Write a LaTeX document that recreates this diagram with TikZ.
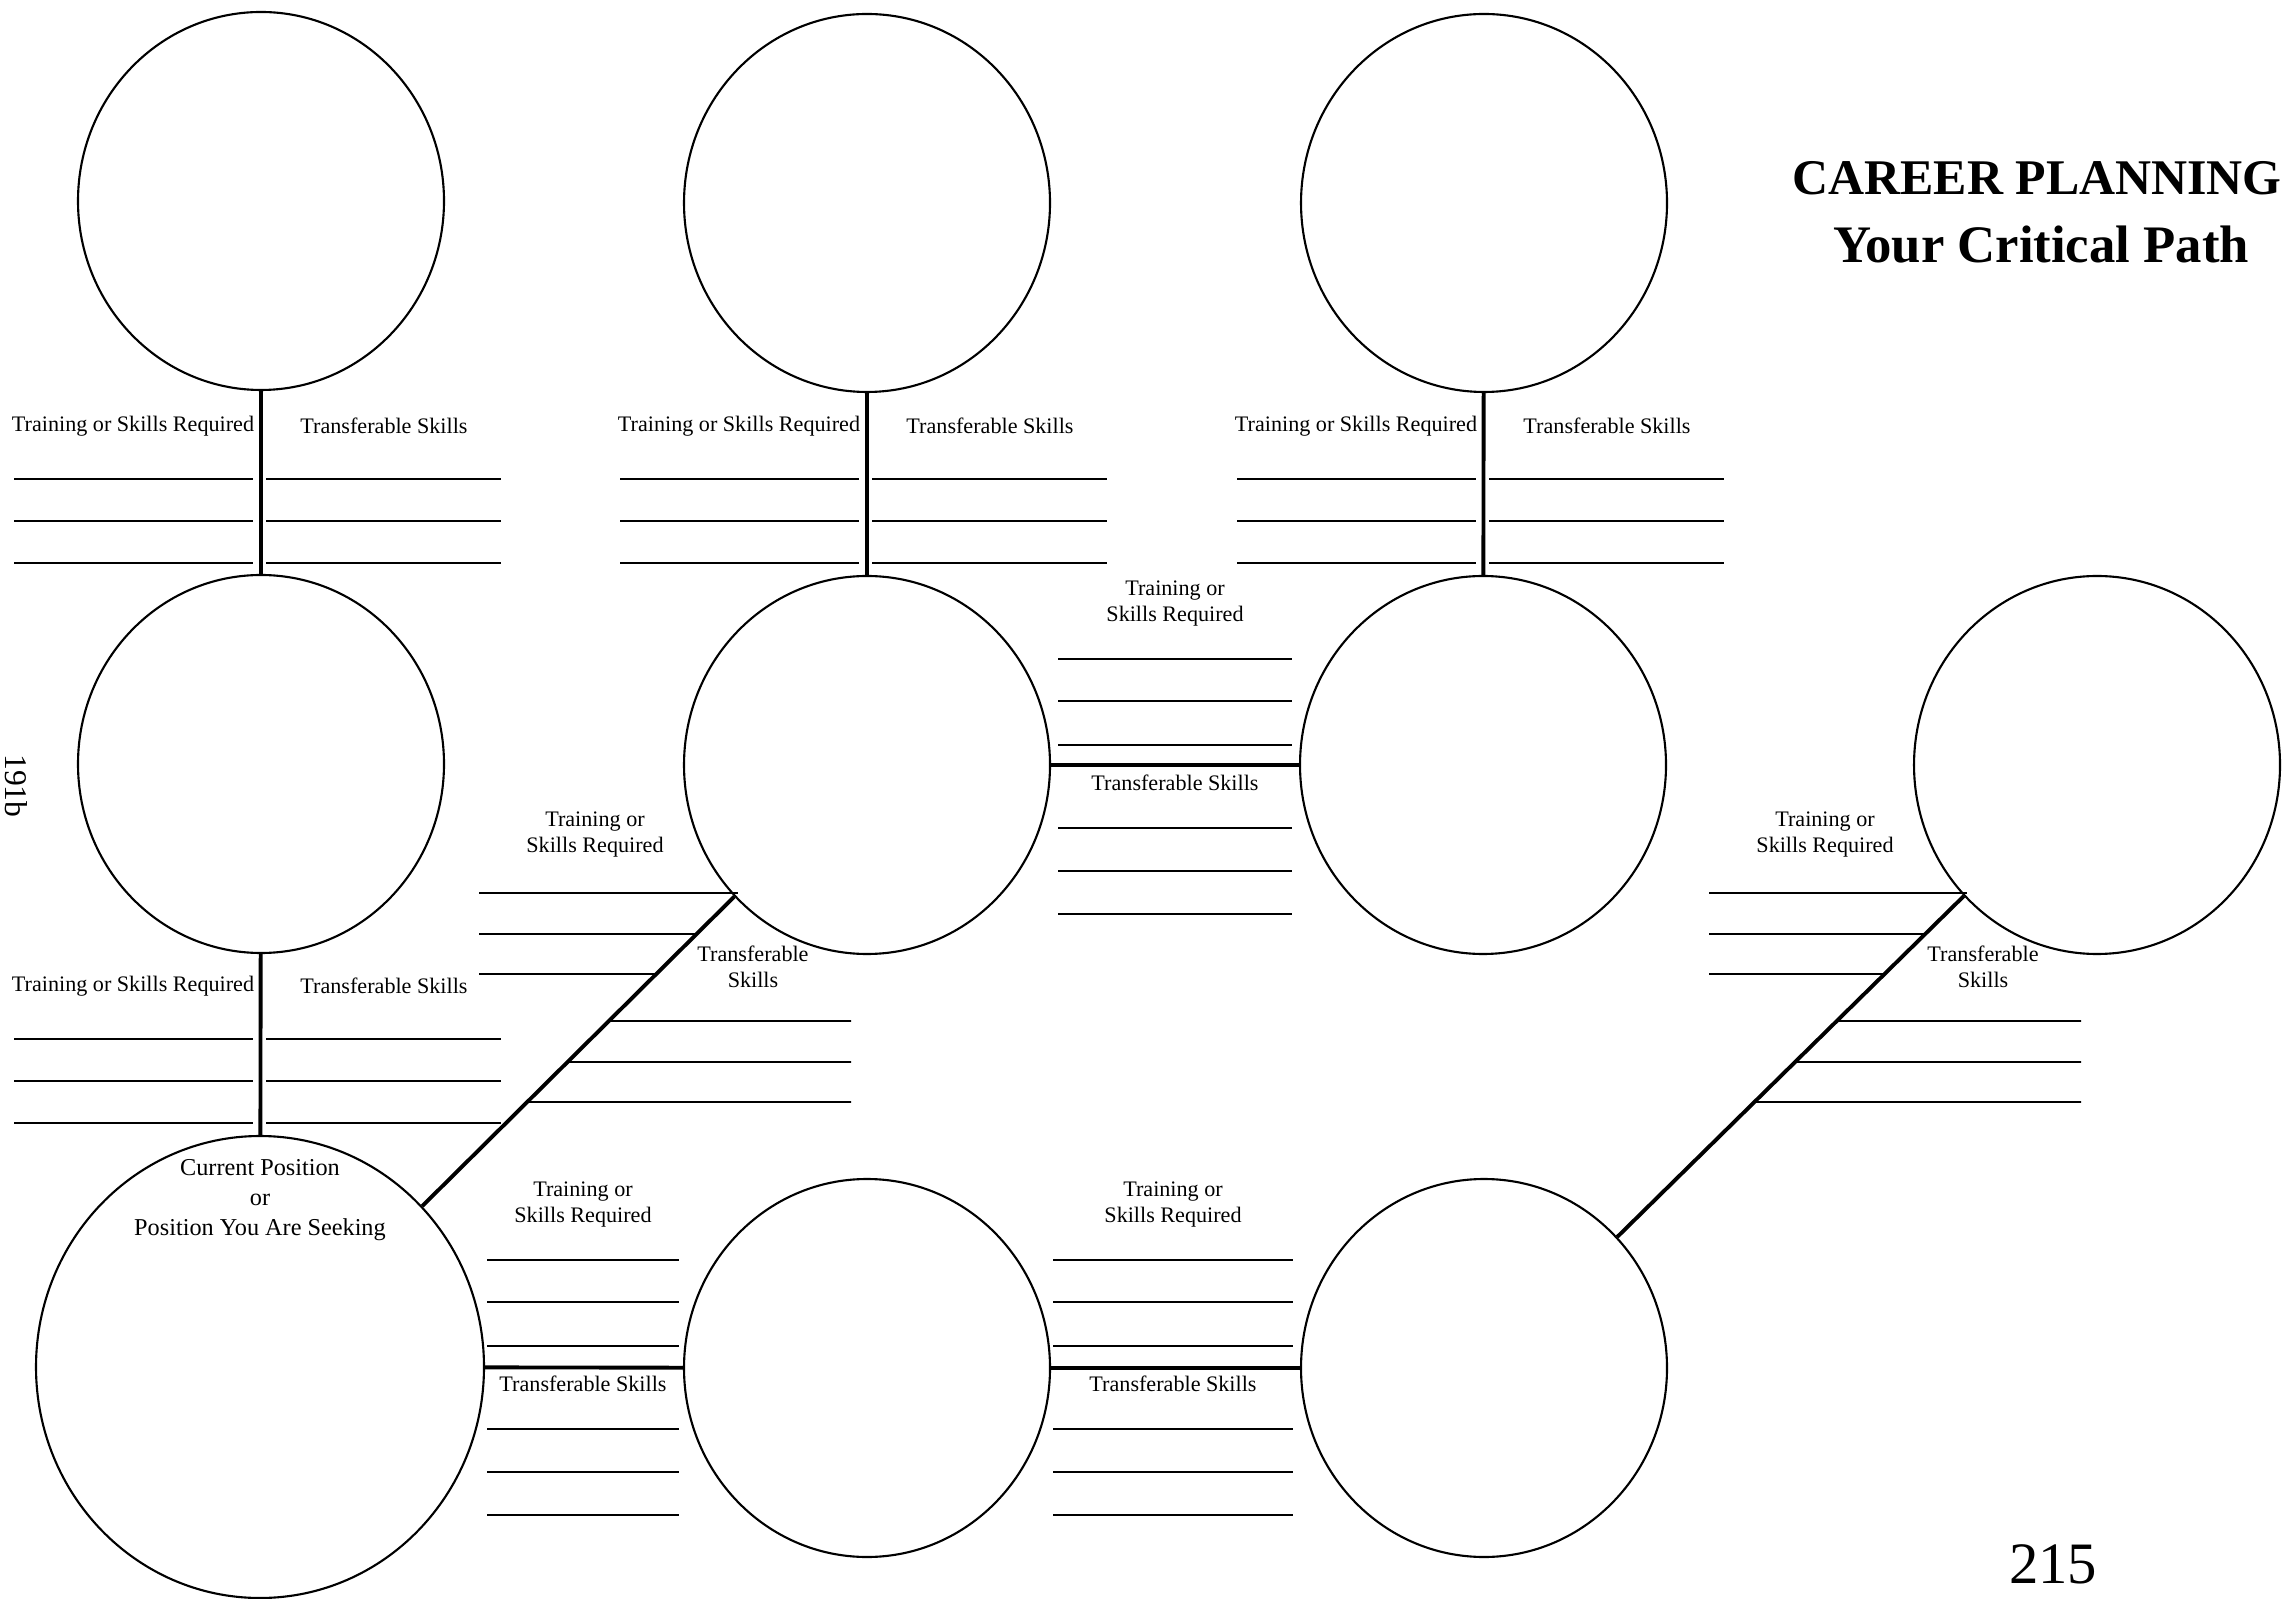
\documentclass[tikz,border=0pt]{standalone}
\usepackage{fontspec}
\setmainfont{Liberation Serif}
\usepackage{tikz}
\usetikzlibrary{shapes.geometric,positioning}
\tikzset{job/.style={draw, ellipse, line width=0.6pt, inner sep=0pt,
           minimum width=36.6mm, minimum height=37.8mm},
         bigjob/.style={minimum width=44.8mm, minimum height=46.2mm},
         pathlink/.style={line width=1.1pt},
         writeline/.style={line width=0.45pt},
         hint/.style={font=\fontsize{6.3}{7.4}\selectfont, align=center,
           inner sep=0pt},
         heading/.style={font=\fontsize{14.2}{17}\selectfont\bfseries,
           anchor=base, inner sep=0pt}}

\begin{document}
\begin{tikzpicture}[x=0.1mm,y=-0.1mm]
  \useasboundingbox (0,0) rectangle (2288,1599);
  % the positions
  \node[job] (c1) at (261,201) {};
  \node[job] (c2) at (867,203) {};
  \node[job] (c3) at (1484,203) {};
  \node[job] (c4) at (261,764) {};
  \node[job] (c5) at (867,765) {};
  \node[job] (c6) at (1483,765) {};
  \node[job] (c7) at (2097,765) {};
  \node[job,bigjob] (c8) at (260,1367) {};
  \node[job] (c9) at (867,1368) {};
  \node[job] (c10) at (1484,1368) {};
  \node[font=\fontsize{6.9}{8.5}\selectfont, align=center, inner sep=0pt,
        below=2.4mm of c8.north] (now)
       {Current Position\\or\\Position You Are Seeking};
  % the critical path
  \draw[pathlink] (c1) -- (c4) (c4) -- (c8) (c2) -- (c5) (c3) -- (c6)
        (c5) -- (c6) (c8) -- (c9) (c9) -- (c10)
        (c8) -- (c5) (c10) -- (c7);
  % skills on the vertical links
  \foreach \x/\y in {261/426, 867/426, 1484/426, 261/986} {
    \node[hint] (need-\x-\y) at (\x-128,\y) {Training or Skills Required};
    \node[hint] (carry-\x-\y) at (\x+123,\y) {Transferable Skills};
    \foreach \d in {53,95,137} {
      \draw[writeline] (\x-247,\y+\d) -- (\x-8,\y+\d);
      \draw[writeline] (\x+5,\y+\d) -- (\x+240,\y+\d);
    }
  }
  % skills on the horizontal links
  \foreach \m/\y/\w in {1175/767/117, 583/1368/96, 1173/1368/120} {
    \node[hint] (need-\m-\y) at (\m,\y-163) {Training or\\Skills Required};
    \node[hint] (carry-\m-\y) at (\m,\y+16) {Transferable Skills};
    \foreach \d in {-108,-66,-22,61,104,147}
      \draw[writeline] (\m-\w,\y+\d) -- (\m+\w,\y+\d);
  }
  % skills on the diagonal links
  \foreach \a/\b/\cx in {c8/c5/867, c10/c7/2097} {
    \node[hint] (need-\b) at (\cx-272,835) {Training or\\Skills Required};
    \node[hint] (carry-\b) at (\cx-114,967) {Transferable\\Skills};
    \foreach \ly in {893,934,974}
      \draw[writeline] (\cx-388,\ly) --
        (intersection of \a.center--\b.center and 0,\ly--10,\ly);
    \foreach \ly in {1021,1062,1102}
      \draw[writeline] (intersection of \a.center--\b.center and 0,\ly--10,\ly)
        -- (\cx-16,\ly);
  }
  % title and page numbers
  \node[heading] (title) at (2037,195) {CAREER PLANNING};
  \node[heading, font=\fontsize{15}{18}\selectfont\bfseries]
       (subtitle) at (2041,263) {Your Critical Path};
  \node[font=\fontsize{16.7}{20}\selectfont, anchor=base, inner sep=0pt]
       (page) at (2053,1583) {215};
  \node[font=\fontsize{9}{11}\selectfont, rotate=-90, inner sep=0pt]
       (oldpage) at (16,786) {191b};
\end{tikzpicture}
\end{document}
